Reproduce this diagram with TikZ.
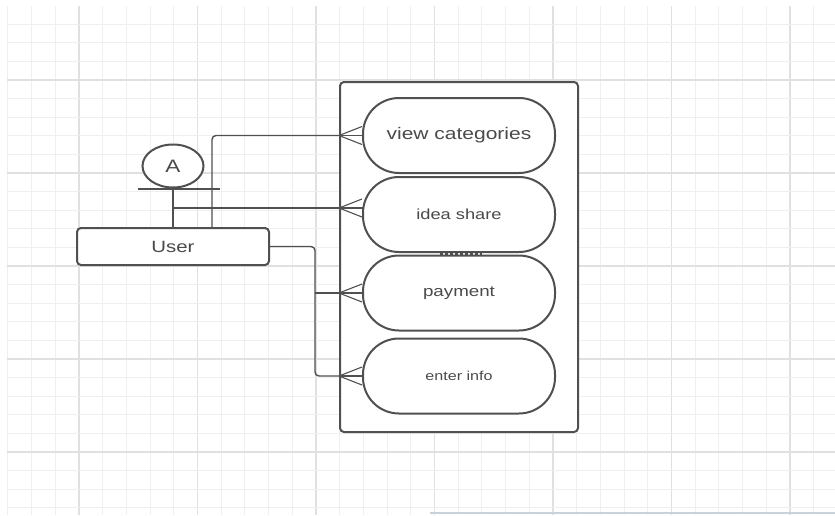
\documentclass[tikz,border=0pt]{standalone}
\usepackage{fontspec}
\setmainfont{Liberation Sans}
\newfontfamily\dfont[FakeStretch=1.25]{Liberation Sans}
\usetikzlibrary{shapes.geometric,calc}
\definecolor{ink}{HTML}{505050}
\definecolor{txt}{HTML}{4a4a4a}
\definecolor{gminor}{HTML}{efefef}
\definecolor{gmajor}{HTML}{e0e0e0}
\definecolor{edgeline}{HTML}{c9d1d9}
\begin{document}
\begin{tikzpicture}[x=1pt,y=-1pt,
  conn/.style={draw=ink,line width=1.4pt},
  usecase/.style={draw=ink,line width=2pt,fill=white,rounded corners=36pt,
    minimum width=192pt,minimum height=75pt,inner sep=0pt,text=txt,font=\dfont},
  boxstyle/.style={draw=ink,line width=2pt,fill=white,rounded corners=4pt,inner sep=0pt},
  pics/crow/.style={code={\draw[conn,line width=1.1pt] (0,0) -- (23,-9) (0,0) -- (23,9);}}
]
\useasboundingbox (0,0) rectangle (835,515);
\fill[white] (0,0) rectangle (835,515);
% grid
\begin{scope}
\clip (7,6) rectangle (835,515);
\foreach \k in {-3,...,32}{
  \pgfmathsetmacro\xx{79+23.7*\k}
  \pgfmathtruncatemacro\mm{mod(\k+15,5)}
  \ifnum\mm=0 \draw[gmajor,line width=1.1pt] (\xx,0) -- (\xx,515);
  \else \draw[gminor,line width=1pt] (\xx,0) -- (\xx,515); \fi
}
\foreach \k in {-4,...,24}{
  \pgfmathsetmacro\yy{80+18.6*\k}
  \pgfmathtruncatemacro\mm{mod(\k+20,5)}
  \ifnum\mm=0 \draw[gmajor,line width=1.1pt] (0,\yy) -- (835,\yy);
  \else \draw[gminor,line width=1pt] (0,\yy) -- (835,\yy); \fi
}
\end{scope}
\draw[edgeline,line width=1.5pt] (430,513) -- (835,513);
% system boundary
\node[boxstyle,minimum width=238pt,minimum height=350pt] (sys) at (459,257) {};
% use cases
\node[usecase] (vc) at (459,135.5) {\fontsize{16.8}{20}\selectfont view categories};
\node[usecase] (is) at (459,214.5) {\fontsize{14.6}{18}\selectfont idea share};
\node[usecase] (pay) at (459,293) {\fontsize{15}{18}\selectfont payment};
\node[usecase] (ei) at (459,376) {\fontsize{12.9}{16}\selectfont enter info};
\draw[ink,line width=2.2pt,dash pattern=on 3pt off 2pt] (440,253.5) -- (482,253.5);
% actor
\node[boxstyle,minimum width=192pt,minimum height=37pt,text=txt,font=\dfont\fontsize{16.3}{20}\selectfont] (user) at (173,246.5) {User};
\node[draw=ink,line width=2pt,fill=white,ellipse,minimum width=61pt,minimum height=43pt,inner sep=0pt,text=txt,font=\dfont\fontsize{18}{20}\selectfont] (actor) at (173,166) {A};
\coordinate (barL) at (138,189);
\coordinate (barR) at (220,189);
\draw[ink,line width=1.6pt] (barL) -- (barR);
\draw[conn] (actor.south) -- (user.north);
% connectors
\coordinate (j1) at (173,208);
\coordinate (bus) at (315,246.5);
\draw[conn,rounded corners=4pt] ([xshift=39pt]user.north) |- (vc.west -| sys.west);
\draw[conn] (j1) -- (j1 -| sys.west);
\draw[conn,rounded corners=4pt] (user.east) -- (bus) |- (ei.west -| sys.west);
\draw[conn] (bus |- pay.west) -- (pay.west -| sys.west);
\draw[conn] (vc.west -| sys.west) -- (vc.west);
\draw[conn] (pay.west -| sys.west) -- (pay.west);
\draw[conn] (ei.west -| sys.west) -- (ei.west);
\draw[conn] (j1 -| sys.west) -- ++(24,0);
\pic at (vc.west -| sys.west) {crow};
\pic at (j1 -| sys.west) {crow};
\pic at (pay.west -| sys.west) {crow};
\pic at (ei.west -| sys.west) {crow};
\end{tikzpicture}
\end{document}
